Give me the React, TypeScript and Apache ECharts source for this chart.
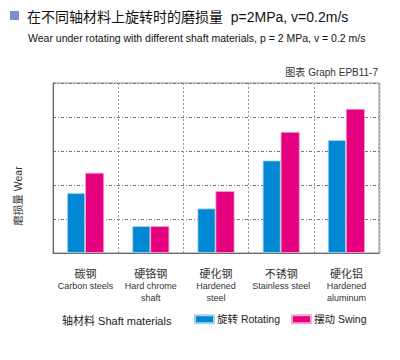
import React, { useEffect, useRef } from "react";
import * as echarts from "echarts";

const categoriesZh = ["碳钢", "硬铬钢", "硬化钢", "不锈钢", "硬化铝"];
const categoriesEn = ["Carbon steels", "Hard chrome\nshaft", "Hardened\nsteel", "Stainless steel", "Hardened\naluminum"];
const rotating = [1.76, 0.79, 1.31, 2.72, 3.32];
const swing = [2.36, 0.79, 1.82, 3.56, 4.24];
const seriesNames = ["旋转 Rotating", "摆动 Swing"];

const FONT = "Arial, 'Liberation Sans', 'Noto Sans CJK SC', sans-serif";

export default function App() {
  const ref = useRef<HTMLDivElement>(null);
  useEffect(() => {
    if (!ref.current) return;
    const chart = echarts.init(ref.current, undefined, { renderer: "svg" });
    const labels = categoriesZh.map((zh, i) => `{zh|${zh}}\n` + categoriesEn[i].split("\n").map((l) => `{en|${l}}`).join("\n"));
    chart.setOption({
      animation: false,
      textStyle: { fontFamily: FONT },
      grid: { left: 53, right: 21, top: 83, bottom: 107, show: true, borderColor: "#8c8c8c", borderWidth: 1 },
      legend: {
        left: 194,
        top: 314,
        padding: 0,
        itemWidth: 19,
        itemHeight: 8,
        itemGap: 11,
        icon: "rect",
        data: seriesNames,
        textStyle: { fontSize: 10.5, color: "#222", fontFamily: FONT, padding: [0, 0, 0, -2] },
      },
      xAxis: {
        type: "category",
        data: labels,
        axisLine: { show: true, lineStyle: { color: "#666", width: 1 } },
        axisTick: { show: false },
        splitLine: { show: true, lineStyle: { color: "#999", type: [2, 2], width: 1 } },
        axisLabel: {
          interval: 0,
          margin: 14,
          formatter: (_v: string, i: number) => labels[i],
          rich: {
            zh: { fontSize: 11, color: "#333", lineHeight: 13, fontFamily: FONT },
            en: { fontSize: 9, color: "#333", lineHeight: 12, fontFamily: FONT },
          },
        },
      },
      yAxis: {
        type: "value",
        min: 0,
        max: 5,
        interval: 1,
        axisLine: { show: true, lineStyle: { color: "#666", width: 1 } },
        axisTick: { show: false },
        axisLabel: { show: false },
        splitLine: { show: true, lineStyle: { color: "#777", type: [3, 2, 1, 2], width: 1 } },
      },
      series: [
        {
          name: seriesNames[0],
          type: "bar",
          data: rotating,
          barWidth: 18,
          barGap: "0%",
          itemStyle: { color: "#0088d2", borderColor: "#a9d4ee", borderWidth: 0.8 },
        },
        {
          name: seriesNames[1],
          type: "bar",
          data: swing,
          barWidth: 19,
          barGap: "0%",
          itemStyle: { color: "#e4007f", borderColor: "#f3a6cf", borderWidth: 0.8 },
        },
      ],
      graphic: [
        { type: "rect", shape: { x: 10, y: 11, width: 9, height: 9 }, style: { fill: "#7b8fcc" } },
        {
          type: "text",
          x: 27,
          y: 16.5,
          style: { text: "在不同轴材料上旋转时的磨损量  p=2MPa, v=0.2m/s", fontSize: 14, fill: "#111", fontFamily: FONT, textVerticalAlign: "middle" },
        },
        {
          type: "text",
          x: 28,
          y: 38,
          style: { text: "Wear under rotating with different shaft materials, p = 2 MPa, v = 0.2 m/s", fontSize: 10.5, fill: "#111", fontFamily: FONT, textVerticalAlign: "middle" },
        },
        {
          type: "text",
          x: 378,
          y: 72,
          style: { text: "图表 Graph EPB11-7", fontSize: 10, fill: "#333", fontFamily: FONT, textAlign: "right", textVerticalAlign: "middle" },
        },
        {
          type: "text",
          x: 18,
          y: 196,
          rotation: Math.PI / 2,
          style: { text: "磨损量 Wear", fontSize: 10.5, fill: "#333", fontFamily: FONT, textAlign: "center", textVerticalAlign: "middle" },
        },
        {
          type: "text",
          x: 62,
          y: 321,
          style: { text: "轴材料 Shaft materials", fontSize: 11, fill: "#222", fontFamily: FONT, textVerticalAlign: "middle" },
        },
        { type: "line", shape: { x1: 379.5, y1: 83, x2: 379.5, y2: 254 }, style: { stroke: "#c4c4c4", lineWidth: 2 } },
      ],
    });
    return () => chart.dispose();
  }, []);
  return <div ref={ref} style={{ width: 400, height: 360, position: "absolute", left: 0, top: 0 }} />;
}
